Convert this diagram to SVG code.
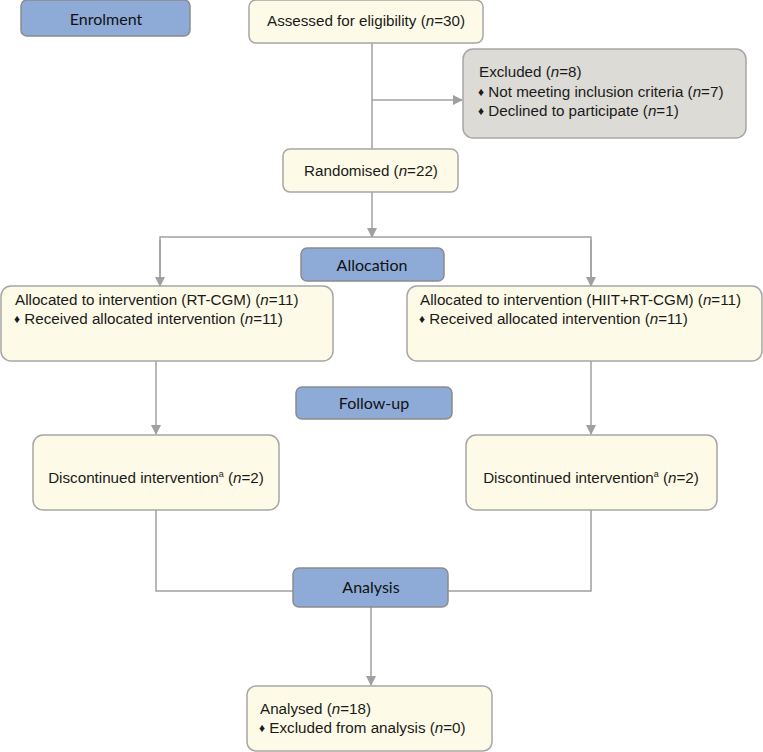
<svg xmlns="http://www.w3.org/2000/svg" width="763" height="752" viewBox="0 0 763 752">
<style>
.box{fill:#fdfbe7;stroke:#a6a6a6;stroke-width:1.5}
.grey{fill:#dddbd6;stroke:#a6a6a6;stroke-width:1.5}
.stage{fill:#8eabd8;stroke:#8c8c8c;stroke-width:1.5}
.t{font-family:"Liberation Sans",Arial,sans-serif;font-size:15.2px;fill:#1a1a1a}
.s{font-family:Lato,"Liberation Sans",sans-serif;font-size:16px;fill:#111;text-anchor:middle}
.c{text-anchor:middle}
.b{font-size:12px}
.sup{font-size:9px}
.con{fill:none;stroke:#a0a0a0;stroke-width:1.5}
</style>
<defs>
<marker id="ah" markerWidth="10" markerHeight="10" refX="9" refY="5" orient="auto" markerUnits="userSpaceOnUse">
<path d="M0,0 L10,5 L0,10 z" fill="#a0a0a0"/>
</marker>
</defs>
<g id="connectors">
<line class="con" x1="372" y1="43" x2="372" y2="149"/>
<line class="con" x1="372" y1="100" x2="462" y2="100" marker-end="url(#ah)"/>
<line class="con" x1="372" y1="192" x2="372" y2="237" marker-end="url(#ah)"/>
<polyline class="con" points="160,286 160,237 591,237 591,286"/>
<line class="con" x1="160" y1="240" x2="160" y2="286" marker-end="url(#ah)"/>
<line class="con" x1="591" y1="240" x2="591" y2="286" marker-end="url(#ah)"/>
<line class="con" x1="156" y1="361" x2="156" y2="434" marker-end="url(#ah)"/>
<line class="con" x1="591" y1="361" x2="591" y2="434" marker-end="url(#ah)"/>
<polyline class="con" points="156,510 156,591 293,591"/>
<polyline class="con" points="591,510 591,591 448,591"/>
<line class="con" x1="371" y1="607" x2="371" y2="685" marker-end="url(#ah)"/>
</g>
<g id="enrolment"><rect class="stage" x="21" y="0" width="169" height="36" rx="6"/><text class="s" x="106" y="25">Enrolment</text></g>
<g id="assessed"><rect class="box" x="249" y="0" width="234" height="43" rx="7"/><text class="t c" x="366" y="26">Assessed for eligibility (<tspan font-style="italic">n</tspan>=30)</text></g>
<g id="excluded"><rect class="grey" x="463" y="49" width="283" height="89" rx="10"/>
<text class="t" x="479" y="77">Excluded (<tspan font-style="italic">n</tspan>=8)</text>
<text class="t" x="478" y="97"><tspan class="b" dy="-1">♦</tspan><tspan dy="1"> Not meeting inclusion criteria (</tspan><tspan font-style="italic">n</tspan>=7)</text>
<text class="t" x="478" y="116"><tspan class="b" dy="-1">♦</tspan><tspan dy="1"> Declined to participate (</tspan><tspan font-style="italic">n</tspan>=1)</text>
</g>
<g id="randomised"><rect class="box" x="283" y="149" width="175" height="43" rx="7"/><text class="t c" x="371" y="176">Randomised (<tspan font-style="italic">n</tspan>=22)</text></g>
<g id="allocation"><rect class="stage" x="301" y="248" width="143" height="33" rx="6"/><text class="s" x="372" y="271">Allocation</text></g>
<g id="alloc-left"><rect class="box" x="1" y="286" width="332" height="75" rx="10"/>
<text class="t" x="15" y="305">Allocated to intervention (RT-CGM) (<tspan font-style="italic">n</tspan>=11)</text>
<text class="t" x="14" y="324"><tspan class="b" dy="-1">♦</tspan><tspan dy="1"> Received allocated intervention (</tspan><tspan font-style="italic">n</tspan>=11)</text>
</g>
<g id="alloc-right"><rect class="box" x="407" y="286" width="355" height="75" rx="10"/>
<text class="t" x="420" y="305">Allocated to intervention (HIIT+RT-CGM) (<tspan font-style="italic">n</tspan>=11)</text>
<text class="t" x="419" y="324"><tspan class="b" dy="-1">♦</tspan><tspan dy="1"> Received allocated intervention (</tspan><tspan font-style="italic">n</tspan>=11)</text>
</g>
<g id="followup"><rect class="stage" x="296" y="387" width="156" height="32" rx="6"/><text class="s" x="374" y="409">Follow-up</text></g>
<g id="disc-left"><rect class="box" x="33" y="435" width="246" height="75" rx="10"/>
<text class="t c" x="156" y="483">Discontinued intervention<tspan class="sup" dy="-6">a</tspan><tspan dy="6"> (</tspan><tspan font-style="italic">n</tspan>=2)</text></g>
<g id="disc-right"><rect class="box" x="466" y="435" width="251" height="75" rx="10"/>
<text class="t c" x="591" y="483">Discontinued intervention<tspan class="sup" dy="-6">a</tspan><tspan dy="6"> (</tspan><tspan font-style="italic">n</tspan>=2)</text></g>
<g id="analysis"><rect class="stage" x="293" y="568" width="155" height="39" rx="6"/><text class="s" x="371" y="593">Analysis</text></g>
<g id="analysed"><rect class="box" x="247" y="686" width="245" height="65" rx="9"/>
<text class="t" x="260" y="714">Analysed (<tspan font-style="italic">n</tspan>=18)</text>
<text class="t" x="259" y="733"><tspan class="b" dy="-1">♦</tspan><tspan dy="1"> Excluded from analysis (</tspan><tspan font-style="italic">n</tspan>=0)</text>
</g>
</svg>
